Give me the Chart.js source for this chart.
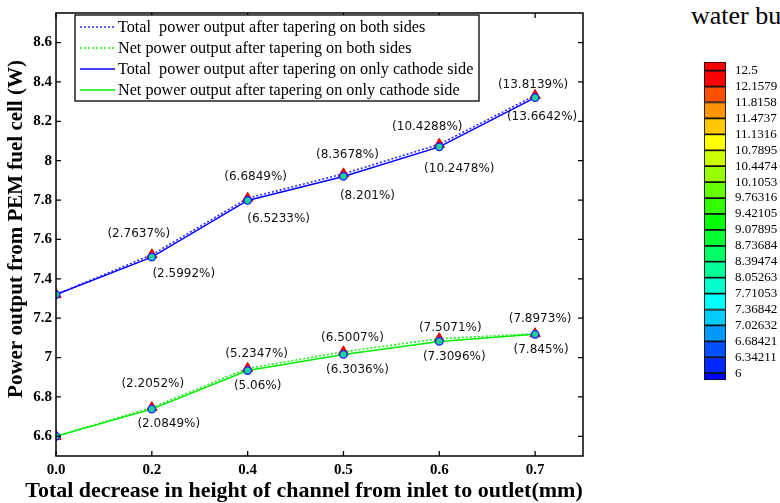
<!DOCTYPE html>
<html>
<head>
<meta charset="utf-8">
<script src="https://cdn.jsdelivr.net/npm/chart.js@4.4.1/dist/chart.umd.min.js"></script>
<style>
  html, body { margin: 0; padding: 0; background: #fff; overflow: hidden; }
  body { width: 780px; height: 503px; position: relative; }
  #powerChart { position: absolute; left: 0; top: 0; }
  #colorBar { position: absolute; left: 690px; top: 45px; }
  #waterTitle {
    position: absolute; left: 691px; top: 3px; white-space: nowrap;
    font: 26px "Liberation Serif", serif; line-height: 26px; color: #000;
  }
</style>
</head>
<body>
<div id="waterTitle">water bubble</div>
<canvas id="powerChart" width="600" height="503"></canvas>
<canvas id="colorBar" width="90" height="352"></canvas>
<script>
// x categories (drawn evenly spaced, like the original)
const xLabels = ["0.0", "0.2", "0.4", "0.5", "0.6", "0.7"];
const yTicks = [6.6, 6.8, 7.0, 7.2, 7.4, 7.6, 7.8, 8.0, 8.2, 8.4, 8.6];

// power output (W)
const totalBoth = [7.32, 7.522, 7.809, 7.933, 8.083, 8.331];
const netBoth = [6.6, 6.746, 6.945, 7.029, 7.096, 7.121];
const totalCathode = [7.32, 7.51, 7.798, 7.92, 8.07, 8.32];
const netCathode = [6.6, 6.738, 6.934, 7.016, 7.082, 7.118];

// increase labels
const totalBothPct = ["", "(2.7637%)", "(6.6849%)", "(8.3678%)", "(10.4288%)", "(13.8139%)"];
const netBothPct = ["", "(2.2052%)", "(5.2347%)", "(6.5007%)", "(7.5071%)", "(7.8973%)"];
const totalCathodePct = ["", "(2.5992%)", "(6.5233%)", "(8.201%)", "(10.2478%)", "(13.6642%)"];
const netCathodePct = ["", "(2.0849%)", "(5.06%)", "(6.3036%)", "(7.3096%)", "(7.845%)"];

// colour bar levels (top to bottom)
const levelLabels = ["12.5", "12.1579", "11.8158", "11.4737", "11.1316", "10.7895", "10.4474",
  "10.1053", "9.76316", "9.42105", "9.07895", "8.73684", "8.39474", "8.05263", "7.71053",
  "7.36842", "7.02632", "6.68421", "6.34211", "6"];
const levelColors = ["#ff0000", "#ff5000", "#ff9400", "#ffc800", "#ffff00", "#ccff00", "#99ff00",
  "#66ff00", "#33ff00", "#00ff00", "#00ff33", "#00ff66", "#00ff99", "#00ffcc", "#00ffff",
  "#00ccff", "#0099ff", "#0050ff", "#0028ff"];

// label offsets from their point (px)
const labelOffsets = {
  totalBoth: [null, [-13, -21], [8, -21], [4, -19], [-12, -17], [-2, -11]],
  netBoth: [null, [1, -24], [9, -15], [9, -14], [11, -11], [5, -15]],
  totalCathode: [null, [32, 17], [31, 18], [24, 19], [20, 22], [7, 19]],
  netCathode: [null, [17, 15], [10, 15], [14, 15], [15, 15], [6, 16]],
};

const toPoints = (arr) => arr.map((v, i) => ({ x: i, y: v }));
const serif = "'Liberation Serif', 'Times New Roman', serif";

const triangleStyle = {
  pointStyle: "triangle", pointRadius: 6, pointBackgroundColor: "#ff0000",
  pointBorderColor: "#d00000", pointBorderWidth: 1,
};
const circleStyle = {
  pointStyle: "circle", pointRadius: 3.7, pointBackgroundColor: "#1cd39c",
  pointBorderColor: "#2020ff", pointBorderWidth: 1.3,
};

const frameTicks = {
  id: "frameTicks",
  afterDraw(chart) {
    const { ctx, chartArea: a, scales } = chart;
    ctx.save();
    ctx.strokeStyle = "#000";
    ctx.lineWidth = 1.5;
    ctx.strokeRect(a.left, a.top, a.right - a.left, a.bottom - a.top);
    ctx.lineWidth = 1.3;
    ctx.beginPath();
    scales.y.ticks.forEach((t) => {
      const y = scales.y.getPixelForValue(t.value);
      ctx.moveTo(a.left, y); ctx.lineTo(a.left + 5, y);
      ctx.moveTo(a.right, y); ctx.lineTo(a.right - 5, y);
    });
    scales.x.ticks.forEach((t) => {
      const x = scales.x.getPixelForValue(t.value);
      ctx.moveTo(x, a.bottom); ctx.lineTo(x, a.bottom - 5);
      ctx.moveTo(x, a.top); ctx.lineTo(x, a.top + 5);
    });
    ctx.stroke();

    // axis titles
    ctx.fillStyle = "#000";
    ctx.textAlign = "center";
    ctx.textBaseline = "middle";
    ctx.font = "bold 22px " + serif;
    ctx.fillText("Total decrease in height of channel from inlet to outlet(mm)", 304, 491);
    ctx.translate(17, 229);
    ctx.rotate(-Math.PI / 2);
    ctx.font = "bold 21px " + serif;
    ctx.fillText("Power output from PEM fuel cell (W)", 0, 0);
    ctx.restore();
  },
};

const pctLabels = {
  id: "pctLabels",
  afterDatasetsDraw(chart) {
    const { ctx } = chart;
    ctx.save();
    ctx.font = "12px 'DejaVu Sans', sans-serif";
    ctx.fillStyle = "#111";
    ctx.textAlign = "center";
    ctx.textBaseline = "middle";
    chart.data.datasets.forEach((ds, di) => {
      const meta = chart.getDatasetMeta(di);
      const offs = labelOffsets[ds.key];
      ds.pct.forEach((txt, i) => {
        if (!txt || !offs[i]) return;
        const p = meta.data[i];
        ctx.fillText(txt, p.x + offs[i][0], p.y + offs[i][1]);
      });
    });
    ctx.restore();
  },
};

const boxLegend = {
  id: "boxLegend",
  afterDraw(chart) {
    const { ctx } = chart;
    const left = 75, top = 15, right = 479, bottom = 101;
    ctx.save();
    ctx.fillStyle = "#fff";
    ctx.fillRect(left, top, right - left, bottom - top);
    ctx.strokeStyle = "#000";
    ctx.lineWidth = 1.3;
    ctx.strokeRect(left, top, right - left, bottom - top);
    ctx.font = "16.2px " + serif;
    ctx.textBaseline = "middle";
    ctx.textAlign = "left";
    chart.data.datasets.forEach((ds, i) => {
      const y = 27 + i * 21;
      ctx.strokeStyle = ds.borderColor;
      ctx.lineWidth = ds.borderWidth;
      ctx.setLineDash(ds.borderDash || []);
      ctx.beginPath();
      ctx.moveTo(80, y);
      ctx.lineTo(115, y);
      ctx.stroke();
      ctx.setLineDash([]);
      ctx.fillStyle = "#000";
      ctx.fillText(ds.label, 118, y + 1);
    });
    ctx.restore();
  },
};

new Chart(document.getElementById("powerChart"), {
  type: "line",
  data: {
    datasets: [
      {
        key: "totalBoth", pct: totalBothPct,
        label: "Total  power output after tapering on both sides",
        data: toPoints(totalBoth), borderColor: "#2a2aff", borderWidth: 1.6,
        borderDash: [2, 2], order: 2, ...triangleStyle,
      },
      {
        key: "netBoth", pct: netBothPct,
        label: "Net power output after tapering on both sides",
        data: toPoints(netBoth), borderColor: "#22ee22", borderWidth: 1.6,
        borderDash: [2, 2], order: 2, ...triangleStyle,
      },
      {
        key: "totalCathode", pct: totalCathodePct,
        label: "Total  power output after tapering on only cathode side",
        data: toPoints(totalCathode), borderColor: "#0000ff", borderWidth: 1.5,
        order: 1, ...circleStyle,
      },
      {
        key: "netCathode", pct: netCathodePct,
        label: "Net power output after tapering on only cathode side",
        data: toPoints(netCathode), borderColor: "#00ee00", borderWidth: 1.5,
        order: 1, ...circleStyle,
      },
    ],
  },
  options: {
    responsive: false,
    animation: false,
    devicePixelRatio: 1,
    layout: { padding: { top: 8, right: 17, left: 0, bottom: 0 } },
    plugins: { legend: { display: false }, tooltip: { enabled: false } },
    scales: {
      x: {
        type: "linear", min: 0, max: 5.5,
        grid: { display: false, drawTicks: false },
        border: { display: false },
        afterBuildTicks: (s) => { s.ticks = xLabels.map((_, i) => ({ value: i })); },
        afterFit: (s) => { s.height = 47; },
        ticks: {
          padding: 5, color: "#000", font: { family: serif, size: 15, weight: "bold" },
          callback: (v) => xLabels[v],
        },
      },
      y: {
        min: 6.5, max: 8.75,
        grid: { display: false, drawTicks: false },
        border: { display: false },
        afterBuildTicks: (s) => { s.ticks = yTicks.map((v) => ({ value: v })); },
        afterFit: (s) => { s.width = 56; },
        ticks: {
          padding: 4, color: "#000", font: { family: serif, size: 15, weight: "bold" },
          callback: (v) => String(Number(v.toFixed(1))),
        },
      },
    },
  },
  plugins: [frameTicks, pctLabels, boxLegend],
});

// colour bar
const levelValues = levelLabels.map(Number);
const barSets = levelColors.map((c, i) => ({
  data: [[levelValues[i + 1], levelValues[i]]],
  backgroundColor: c,
}));
barSets.unshift({ data: [[12.5, 12.69]], backgroundColor: "#ff0000" });
barSets.push({ data: [[5.85, 6]], backgroundColor: "#0000ff" });

new Chart(document.getElementById("colorBar"), {
  type: "bar",
  data: {
    labels: [""],
    datasets: barSets.map((d) => ({
      ...d, borderColor: "#111", borderWidth: 1.2, borderSkipped: false,
      grouped: false, barPercentage: 1, categoryPercentage: 1,
    })),
  },
  options: {
    responsive: false,
    animation: false,
    devicePixelRatio: 1,
    layout: { padding: { top: 8, bottom: 8, left: 14, right: 0 } },
    plugins: { legend: { display: false }, tooltip: { enabled: false } },
    scales: {
      x: { display: false },
      y: {
        position: "right", min: 5.85, max: 12.69,
        grid: { display: false, drawTicks: false },
        border: { display: false },
        afterBuildTicks: (s) => { s.ticks = levelValues.map((v) => ({ value: v })); },
        afterFit: (s) => { s.width = 54; },
        ticks: {
          autoSkip: false, padding: 9, color: "#000",
          font: { family: serif, size: 13 },
          callback: (v, i) => levelLabels[i],
        },
      },
    },
  },
});
</script>
</body>
</html>
